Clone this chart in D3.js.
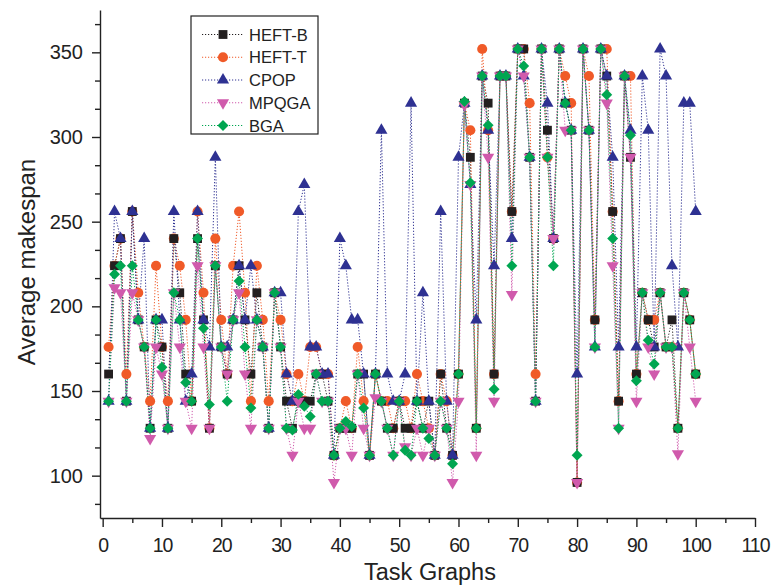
<!DOCTYPE html>
<html>
<head>
<meta charset="utf-8">
<script src="https://cdn.jsdelivr.net/npm/d3@7/dist/d3.min.js"></script>
<style>
  html, body { margin: 0; padding: 0; background: #fff; }
  svg { display: block; font-family: "Liberation Sans", Arial, sans-serif; }
</style>
</head>
<body>
<div id="chart"></div>
<script>
const width = 772;
const height = 588;

// series names, legend order
const seriesNames = ["HEFT-B", "HEFT-T", "CPOP", "MPQGA", "BGA"];

// average makespan per task graph (1..100)
const heftB = [160,224,240,144,256,192,176,128,192,176, 128,240,208,160,144,240,192,128,224,176,
  160,192,224,192,160,208,176,128,208,176, 144,128,144,144,144,160,160,144,112,128,
  128,128,160,160,112,160,144,128,128,144, 128,128,144,128,144,112,160,128,112,160,
  320,288,128,336,320,160,336,336,256,352, 352,288,144,352,304,240,352,320,304,96,
  352,304,192,352,336,256,144,336,288,160, 208,192,176,208,176,192,128,208,192,160];
const heftT = [176,224,240,160,256,208,176,144,224,176, 144,240,224,192,144,256,208,128,240,192,
  160,224,256,208,144,224,192,144,208,192, 160,144,160,144,176,176,160,160,112,128,
  144,128,176,144,112,160,144,144,128,144, 144,128,160,144,128,112,160,144,112,160,
  320,304,128,352,304,160,336,336,256,352, 352,320,160,352,288,240,352,336,320,96,
  352,336,192,352,352,256,144,336,336,160, 208,192,192,208,176,176,128,208,192,160];
const cpop = [144,256,240,144,256,192,240,128,192,192, 128,256,192,144,160,256,192,176,288,176,
  176,192,224,192,224,192,176,128,208,208, 160,144,256,272,176,176,160,160,112,240,
  224,192,192,160,112,160,304,160,144,144, 160,320,144,208,144,112,256,144,112,288,
  320,272,192,336,304,224,336,336,240,352, 336,288,144,352,320,240,352,320,304,160,
  352,304,176,352,336,288,176,336,304,176, 336,304,176,352,336,224,176,320,320,256];
const mpqga = [144,211,208,144,208,192,176,122,176,160, 128,208,176,144,128,224,176,128,224,176,
  160,192,208,160,128,192,176,128,208,176, 128,112,144,128,128,160,144,144,96,128,
  128,112,160,128,112,146,144,128,112,144, 117,112,128,112,128,112,144,128,96,144,
  319,272,112,336,288,144,336,336,207,352, 336,288,144,352,288,240,352,304,304,96,
  352,304,176,352,320,224,128,336,288,144, 208,176,160,208,176,176,113,208,176,144];
const bga = [144,219,224,144,224,192,176,128,192,164, 128,208,192,155,144,240,187,142,224,176,
  144,192,215,176,140,192,176,128,208,176, 128,127,148,141,135,160,144,144,112,128,
  132,129,160,140,112,160,144,128,112,144, 115,112,144,128,122,112,144,128,107,160,
  321,273,128,336,307,151,336,336,224,352, 342,288,144,352,288,224,352,320,304,112,
  352,304,176,352,325,240,128,336,301,156, 208,180,166,208,176,176,128,208,192,160];

const seriesValues = [heftB, heftT, cpop, mpqga, bga];
const seriesColors = ["#231f20", "#f05a28", "#2e3192", "#d05aac", "#00a651"];
const xTicks = [0,10,20,30,40,50,60,70,80,90,100,110];
const yTicks = [100,150,200,250,300,350];

const svg = d3.select("#chart").append("svg")
  .attr("width", width).attr("height", height);

const x = d3.scaleLinear().domain([-0.45, 110]).range([100, 755]);
const y = d3.scaleLinear().domain([75, 375]).range([518, 10]);

// symbols
const symbolFor = [
  d3.symbol().type(d3.symbolSquare).size(78),
  d3.symbol().type(d3.symbolCircle).size(80),
  d3.symbol().type(d3.symbolTriangle).size(64),
  d3.symbol().type(d3.symbolTriangle).size(64),
  d3.symbol().type(d3.symbolSquare).size(60)
];
const rotFor = [0, 0, 0, 180, 45];

const series = seriesNames.map((name, k) => ({
  name, k, color: seriesColors[k],
  points: seriesValues[k].map((v, i) => ({ task: i + 1, v }))
}));

const line = d3.line().x(d => x(d.task)).y(d => y(d.v));

const plot = svg.append("g");
// dotted lines
plot.selectAll("path.series-line")
  .data(series)
  .join("path")
  .attr("class", "series-line")
  .attr("fill", "none")
  .attr("stroke", d => d.color)
  .attr("stroke-width", 1)
  .attr("stroke-dasharray", "1.2,1.8");

plot.selectAll("path.series-line").attr("d", d => line(d.points));

// markers (HEFT-T drawn under HEFT-B)
const drawOrder = [1, 0, 2, 3, 4];
drawOrder.forEach(k => {
  const s = series[k];
  plot.append("g").selectAll("path")
    .data(s.points)
    .join("path")
    .attr("d", symbolFor[k])
    .attr("fill", s.color)
    .attr("transform", d => `translate(${x(d.task)},${y(d.v)}) rotate(${rotFor[k]})`);
});

// axes
const xAxis = svg.append("g").attr("transform", "translate(0,518)")
  .call(d3.axisBottom(x).tickValues(xTicks).tickSize(9).tickSizeOuter(0).tickPadding(11));
svg.append("g").attr("transform", "translate(0,518)")
  .call(d3.axisBottom(x).tickValues(d3.range(5, 110, 10)).tickSize(5).tickFormat(""))
  .select(".domain").remove();

const yAxis = svg.append("g").attr("transform", "translate(100,0)")
  .call(d3.axisLeft(y).tickValues(yTicks).tickSize(8).tickSizeOuter(0).tickPadding(9));
svg.append("g").attr("transform", "translate(100,0)")
  .call(d3.axisLeft(y).tickValues(d3.range(-1, 17).filter(k => k % 3 !== 0).map(k => 100 + k * 50 / 3))
    .tickSize(5).tickFormat(""))
  .select(".domain").remove();

svg.selectAll(".domain, .tick line").attr("stroke", "#222").attr("stroke-width", 1.4);
xAxis.selectAll("text").attr("font-size", 19.5).attr("fill", "#222")
  .attr("letter-spacing", -1).attr("font-family", '"Liberation Sans", Arial, sans-serif');
yAxis.selectAll("text").attr("font-size", 20).attr("fill", "#222")
  .attr("font-family", '"Liberation Sans", Arial, sans-serif');

// axis titles
svg.append("text")
  .attr("x", 430).attr("y", 580)
  .attr("text-anchor", "middle")
  .attr("font-size", 23.5).attr("fill", "#222")
  .text("Task Graphs");
svg.append("text")
  .attr("transform", "translate(35,262) rotate(-90)")
  .attr("text-anchor", "middle")
  .attr("font-size", 24).attr("fill", "#222")
  .text("Average makespan");

// legend
const legend = svg.append("g");
legend.append("rect")
  .attr("x", 191).attr("y", 16).attr("width", 127).attr("height", 118)
  .attr("fill", "#fff").attr("stroke", "#222").attr("stroke-width", 1.2);
series.forEach((s, k) => {
  const ly = 34.5 + k * 22.75;
  legend.append("line")
    .attr("x1", 202).attr("x2", 243).attr("y1", ly).attr("y2", ly)
    .attr("stroke", s.color).attr("stroke-width", 1).attr("stroke-dasharray", "1.2,1.8");
  legend.append("path")
    .attr("d", symbolFor[k])
    .attr("fill", s.color)
    .attr("transform", `translate(223,${ly}) rotate(${rotFor[k]})`);
  legend.append("text")
    .attr("x", 249).attr("y", ly + 6)
    .attr("font-size", 16.5).attr("fill", "#222")
    .text(s.name);
});
</script>
</body>
</html>
